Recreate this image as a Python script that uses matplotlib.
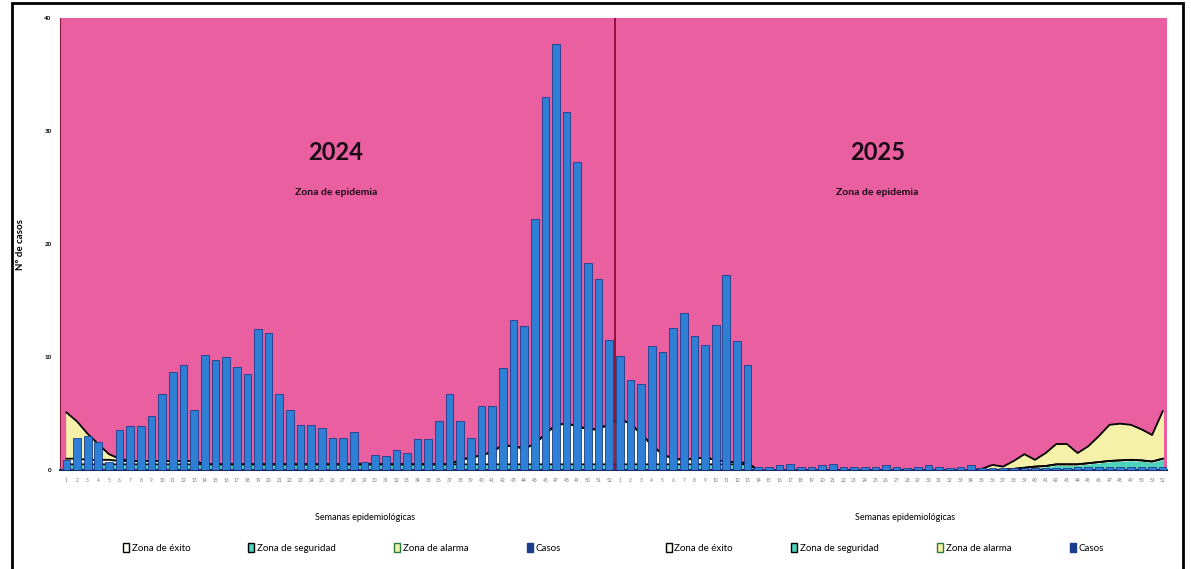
import numpy as np
import matplotlib
matplotlib.use('Agg')
from matplotlib import pyplot as plt
from matplotlib.patches import Patch, Rectangle

plt.rcParams['font.family'] = ['Lato', 'DejaVu Sans']

# weekly cases
casos_2024 = [0.9, 2.8, 3.0, 2.5, 0.7, 3.5, 3.9, 3.9, 4.8, 6.7, 8.7, 9.3, 5.3,
              10.2, 9.7, 10.0, 9.1, 8.5, 12.5, 12.1, 6.7, 5.3, 4.0, 4.0, 3.7, 2.8,
              2.8, 3.4, 0.7, 1.3, 1.2, 1.8, 1.5, 2.7, 2.7, 4.3, 6.7, 4.3, 2.8, 5.7,
              5.7, 9.0, 13.3, 12.7, 22.2, 33.0, 37.7, 31.7, 27.3, 18.3, 16.9, 11.5]
casos_2025 = [10.1, 8.0, 7.6, 11.0, 10.4, 12.6, 13.9, 11.9, 11.1, 12.8, 17.3, 11.4, 9.3,
              0.3, 0.3, 0.4, 0.5, 0.3, 0.3, 0.4, 0.5, 0.3, 0.3, 0.3, 0.3, 0.4,
              0.3, 0.2, 0.3, 0.4, 0.3, 0.2, 0.3, 0.4, 0.2, 0.2, 0.2, 0.2, 0.2,
              0.2, 0.2, 0.2, 0.2, 0.3, 0.3, 0.3, 0.3, 0.3, 0.3, 0.3, 0.3, 0.3]

# upper limit of each zone band (cumulative)
techo_seguridad_2024 = [0.5] * 52
techo_exito_2024 = [1.0, 1.0, 0.9, 0.9, 0.9, 0.8, 0.8, 0.8, 0.8, 0.8, 0.8, 0.8, 0.8,
                    0.5, 0.5, 0.5, 0.5, 0.5, 0.5, 0.5, 0.5, 0.5, 0.5, 0.5, 0.5, 0.5,
                    0.5, 0.5, 0.5, 0.5, 0.5, 0.5, 0.5, 0.5, 0.5, 0.5, 0.5, 0.9, 1.1,
                    1.3, 1.6, 2.2, 2.1, 1.9, 2.3, 3.2, 4.0, 4.1, 3.9, 3.6, 3.6, 4.1]
techo_alarma_2024 = [5.1, 4.3, 3.2, 2.3, 1.4, 1.0] + [0.0] * 46

techo_seguridad_2025 = [0.5] * 13 + [0.0] * 24 + [0.1, 0.2, 0.3, 0.35, 0.5, 0.5, 0.5,
                                                  0.6, 0.7, 0.8, 0.85, 0.9, 0.85, 0.75, 1.0]
techo_exito_2025 = [4.5, 4.1, 3.2, 2.2, 1.4, 1.0, 0.9, 1.0, 1.1, 0.9, 0.7, 0.7, 0.6] + [0.0] * 39
techo_alarma_2025 = [0.0] * 34 + [0.1, 0.45, 0.3, 0.8, 1.4, 0.9, 1.5, 2.3, 2.3, 1.5,
                                  2.1, 3.0, 4.0, 4.1, 4.0, 3.6, 3.1, 5.2]

semanas = list(range(1, 53))
anios = ['2024', '2025']

casos = np.array(casos_2024 + casos_2025)
seg = np.array(techo_seguridad_2024 + techo_seguridad_2025)
exi = np.maximum(np.array(techo_exito_2024 + techo_exito_2025), seg)
ala = np.maximum(np.array(techo_alarma_2024 + techo_alarma_2025), exi)
x = np.arange(len(casos))

fig = plt.figure(figsize=(11.91, 5.69), dpi=100)
ax = fig.add_axes([60 / 1191, 1 - 470 / 569, 1107 / 1191, 452 / 569])
ax.set_facecolor('#ea5fa0')

c_seg, c_exi, c_ala = '#4fd3bd', '#fbfbf2', '#f6f1a8'
ax.fill_between(x, 0, seg, color=c_seg, zorder=2)
ax.fill_between(x, seg, exi, color=c_exi, zorder=2)
ax.fill_between(x, exi, ala, color=c_ala, zorder=2)
for top in (seg, exi, ala):
    ax.plot(x, top, color='black', lw=1.3, zorder=2.5)

ax.bar(x, casos, width=0.72, color='#2f80d4', edgecolor='#1b3c8c',
       linewidth=0.6, zorder=3)

ax.axvline(51.5, color='#8a0c2e', lw=1.3, zorder=4)

ax.set_xlim(-0.6, 103.4)
ax.set_ylim(0, 40)
ax.set_xticks(x)
ax.set_xticklabels([str(s) for s in semanas] * 2, fontsize=3.5, color='#777777')
ax.set_yticks([0, 10, 20, 30, 40])
ax.set_yticklabels(['0', '10', '20', '30', '40'], fontsize=4.5, fontweight='bold')
ax.tick_params(length=0, pad=6)
for s in ['top', 'right']:
    ax.spines[s].set_visible(False)
ax.spines['left'].set_color('#8a2040')
ax.spines['bottom'].set_color('#1b2a6a')
ax.spines['bottom'].set_linewidth(1.5)

ax.set_ylabel('Nº de casos', fontsize=7, fontweight='bold', labelpad=14)

for xc, anio in zip([25.3, 76.2], anios):
    ax.text(xc, 28.1, anio, ha='center', va='center', fontsize=17,
            fontweight='bold', color='#1a0a14')
    ax.text(xc, 24.6, 'Zona de epidemia', ha='center', va='center', fontsize=7.5,
            fontweight='bold', color='#1a0a14')

# x axis titles and legends for each year
for xc in [365 / 1191, 905 / 1191]:
    fig.text(xc, 1 - 517 / 569, 'Semanas epidemiológicas', ha='center',
             va='center', fontsize=6.5)

handles = [Patch(facecolor=c_exi, edgecolor='black', label='Zona de éxito'),
           Patch(facecolor=c_seg, edgecolor='black', label='Zona de seguridad'),
           Patch(facecolor=c_ala, edgecolor='#2a7a40', label='Zona de alarma'),
           Patch(facecolor='#1b3c8c', edgecolor='#1b3c8c', label='Casos')]
for xc in [342 / 1191, 885 / 1191]:
    fig.legend(handles=handles, loc='center', bbox_to_anchor=(xc, 1 - 548 / 569),
               ncol=4, frameon=False, fontsize=7, handlelength=0.6,
               handleheight=1.1, handletextpad=0.3, columnspacing=6.0)

fig.patches.append(Rectangle((12 / 1191, -0.02), 1171 / 1191, 1.015,
                             transform=fig.transFigure, fill=False,
                             lw=2, ec='black'))

plt.savefig('out.png', dpi=100)
